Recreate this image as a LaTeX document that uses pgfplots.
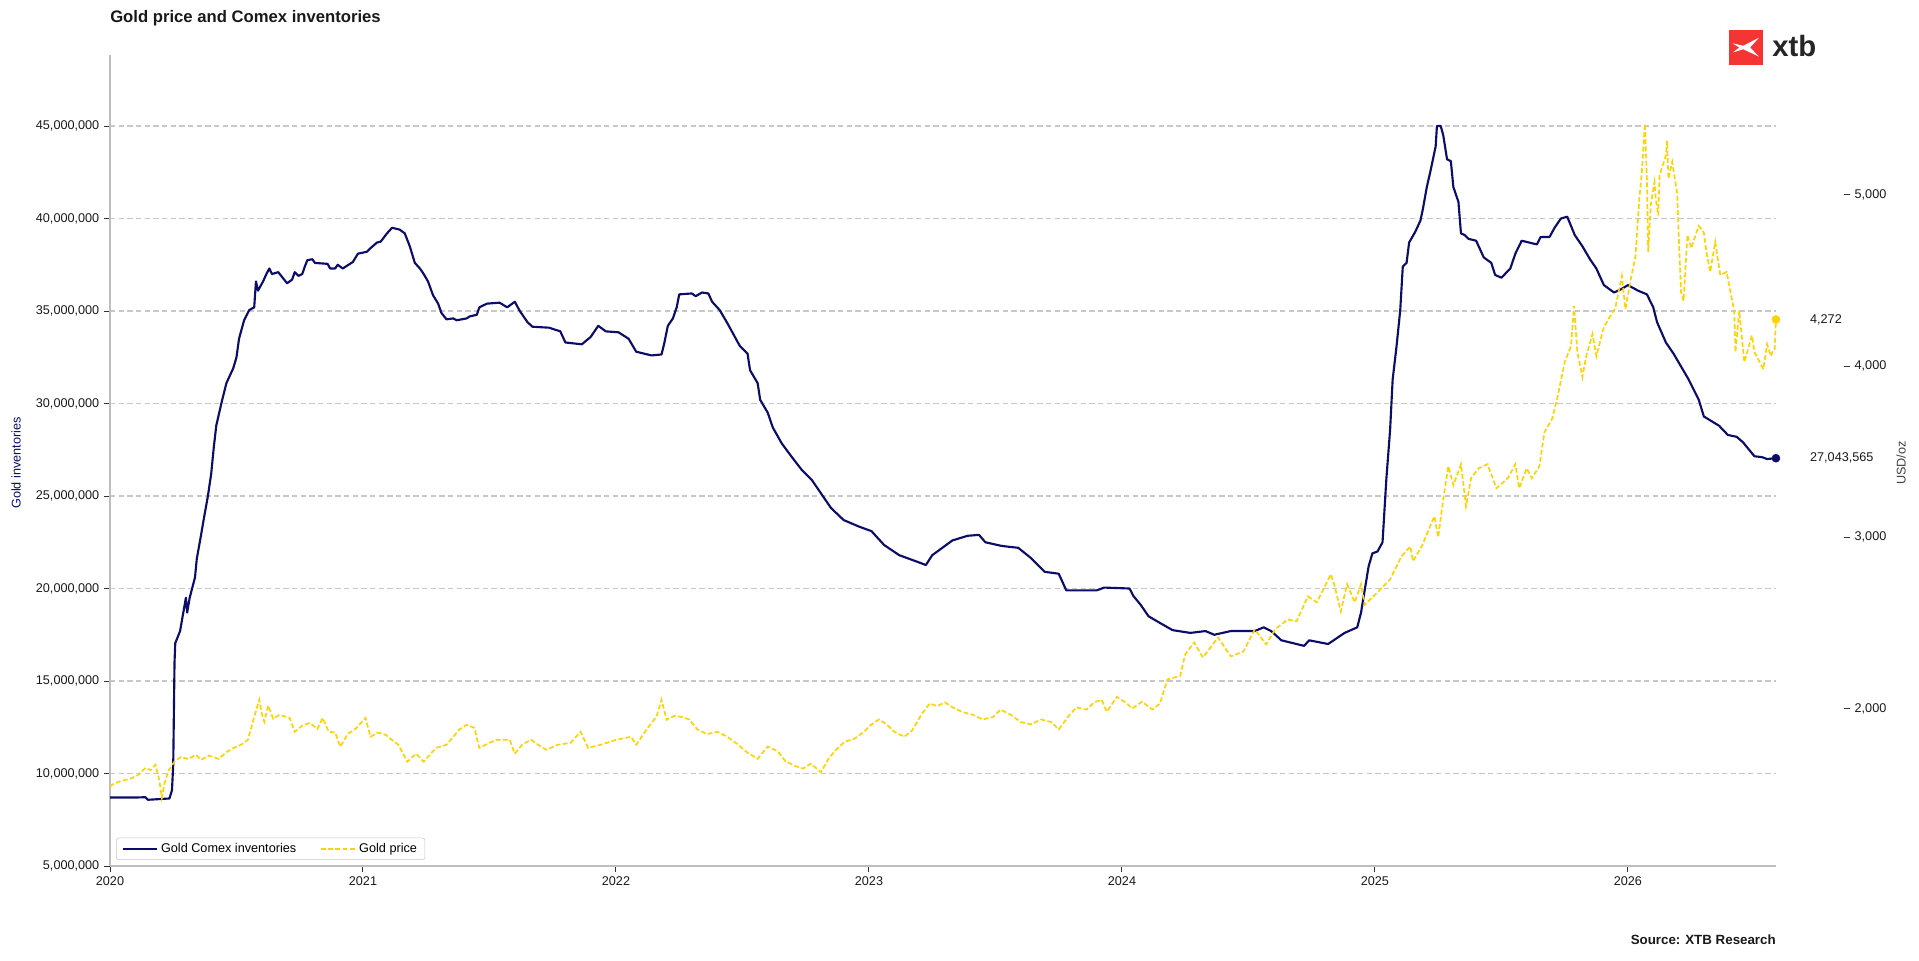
\documentclass[border=0pt]{standalone}
\usepackage{fontspec}
\setmainfont{Liberation Sans}
\usepackage{pgfplots}
\pgfplotsset{compat=1.18}
\definecolor{navy}{RGB}{12,12,105}
\definecolor{goldc}{RGB}{255,210,0}
\definecolor{gridc}{RGB}{200,200,200}
\definecolor{spinec}{RGB}{190,190,190}
\definecolor{xtbred}{RGB}{245,52,52}
\definecolor{txt}{RGB}{25,25,25}
\newcommand{\tfont}{\fontsize{9.5}{11}\selectfont}
\begin{document}
\begin{tikzpicture}
\useasboundingbox (0,0) rectangle (1439.25pt,720pt);
% ---------------- left axis: inventories ----------------
\begin{axis}[
  at={(82.5pt,70.5pt)}, anchor=south west, scale only axis,
  width=1249.5pt, height=608.25pt,
  xmin=2020, xmax=2026.585, ymin=5, ymax=48.84,
  axis x line*=bottom, axis y line*=left,
  axis line style={spinec, line width=1.1pt},
  xtick={2020,2021,2022,2023,2024,2025,2026},
  xticklabels={2020,2021,2022,2023,2024,2025,2026},
  ytick={5,10,15,20,25,30,35,40,45},
  yticklabels={{5,000,000},{10,000,000},{15,000,000},{20,000,000},{25,000,000},{30,000,000},{35,000,000},{40,000,000},{45,000,000}},
  tick align=outside, major tick length=4.5pt,
  tick style={black!80, line width=0.75pt},
  ymajorgrids, grid style={gridc, dash pattern=on 4pt off 2.5pt, line width=0.9pt},
  ticklabel style={font=\tfont, text=txt},
  clip=false,
]
\addplot[navy, line width=1.6pt, mark=none, line join=round] coordinates {
(2020.000,8.70)(2020.100,8.70)(2020.140,8.72)(2020.150,8.58)(2020.200,8.62)(2020.235,8.65)(2020.245,9.10)(2020.250,10.5)(2020.255,16.0)(2020.258,17.05)
(2020.277,17.7)(2020.300,19.5)(2020.305,18.7)(2020.315,19.5)(2020.336,20.6)(2020.343,21.6)(2020.360,22.9)(2020.370,23.7)(2020.387,25.0)(2020.400,26.2)
(2020.410,27.6)(2020.420,28.8)(2020.440,30.0)(2020.460,31.1)(2020.487,31.9)(2020.500,32.5)(2020.510,33.5)(2020.530,34.5)(2020.550,35.05)(2020.570,35.2)
(2020.577,36.6)(2020.585,36.1)(2020.605,36.6)(2020.620,37.05)(2020.630,37.3)(2020.640,37.0)(2020.665,37.1)(2020.700,36.5)(2020.720,36.7)(2020.730,37.1)
(2020.745,36.9)(2020.760,37.0)(2020.770,37.4)(2020.780,37.75)(2020.800,37.8)(2020.810,37.6)(2020.860,37.55)(2020.870,37.3)(2020.890,37.3)(2020.900,37.5)
(2020.920,37.3)(2020.960,37.65)(2020.980,38.1)(2021.015,38.2)(2021.030,38.4)(2021.055,38.7)(2021.070,38.75)(2021.095,39.2)(2021.115,39.5)(2021.145,39.4)
(2021.165,39.2)(2021.185,38.5)(2021.205,37.6)(2021.225,37.3)(2021.240,37.0)(2021.257,36.6)(2021.277,35.85)(2021.297,35.4)(2021.310,34.9)(2021.330,34.55)
(2021.357,34.6)(2021.370,34.5)(2021.410,34.6)(2021.420,34.7)(2021.450,34.8)(2021.460,35.2)(2021.490,35.4)(2021.540,35.45)(2021.570,35.2)(2021.600,35.5)
(2021.620,35.0)(2021.650,34.4)(2021.670,34.15)(2021.735,34.1)(2021.780,33.9)(2021.800,33.3)(2021.865,33.2)(2021.900,33.6)(2021.930,34.2)(2021.960,33.9)
(2022.010,33.85)(2022.050,33.5)(2022.080,32.8)(2022.140,32.6)(2022.180,32.65)(2022.190,33.2)(2022.205,34.2)(2022.225,34.6)(2022.240,35.2)(2022.250,35.9)
(2022.300,35.95)(2022.315,35.8)(2022.340,36.0)(2022.365,35.95)(2022.380,35.5)(2022.410,35.05)(2022.440,34.35)(2022.470,33.6)(2022.490,33.1)(2022.520,32.7)
(2022.530,31.8)(2022.560,31.1)(2022.570,30.2)(2022.600,29.5)(2022.620,28.7)(2022.655,27.85)(2022.690,27.2)(2022.735,26.4)(2022.775,25.85)(2022.815,25.05)
(2022.850,24.35)(2022.900,23.7)(2022.960,23.35)(2023.010,23.1)(2023.060,22.35)(2023.120,21.8)(2023.190,21.45)(2023.225,21.27)(2023.250,21.8)(2023.290,22.2)
(2023.330,22.6)(2023.390,22.85)(2023.435,22.9)(2023.460,22.5)(2023.525,22.3)(2023.590,22.2)(2023.640,21.65)(2023.695,20.9)(2023.750,20.8)(2023.780,19.9)
(2023.900,19.9)(2023.930,20.05)(2024.030,20.0)(2024.045,19.6)(2024.075,19.1)(2024.105,18.5)(2024.155,18.1)(2024.200,17.75)(2024.270,17.6)(2024.330,17.7)
(2024.365,17.5)(2024.430,17.7)(2024.525,17.7)(2024.560,17.9)(2024.590,17.7)(2024.630,17.2)(2024.690,17.0)(2024.720,16.9)(2024.740,17.2)(2024.815,17.0)
(2024.880,17.6)(2024.930,17.9)(2024.945,18.7)(2024.975,21.2)(2024.990,21.9)(2025.010,22.0)(2025.030,22.5)(2025.045,25.9)(2025.060,28.6)(2025.070,31.3)
(2025.085,33.05)(2025.100,35.05)(2025.110,37.4)(2025.125,37.6)(2025.135,38.7)(2025.160,39.3)(2025.180,39.9)(2025.190,40.55)(2025.205,41.7)(2025.220,42.6)
(2025.240,43.9)(2025.245,45.0)(2025.260,45.0)(2025.270,44.5)(2025.285,43.2)(2025.300,43.1)(2025.310,41.7)(2025.330,40.9)(2025.340,39.2)(2025.355,39.1)
(2025.370,38.9)(2025.400,38.8)(2025.430,37.9)(2025.460,37.6)(2025.475,36.95)(2025.500,36.8)(2025.535,37.3)(2025.555,38.1)(2025.580,38.8)(2025.640,38.6)
(2025.655,39.0)(2025.690,39.0)(2025.710,39.5)(2025.735,40.0)(2025.760,40.1)(2025.775,39.6)(2025.790,39.1)(2025.820,38.5)(2025.850,37.8)(2025.875,37.3)
(2025.905,36.4)(2025.945,36.0)(2025.976,36.2)(2026.000,36.4)(2026.040,36.1)(2026.075,35.9)(2026.100,35.2)(2026.115,34.4)(2026.150,33.3)(2026.180,32.7)
(2026.210,32.0)(2026.240,31.3)(2026.280,30.2)(2026.300,29.3)(2026.360,28.8)(2026.395,28.3)(2026.430,28.2)(2026.455,27.9)(2026.470,27.65)(2026.500,27.15)
(2026.530,27.1)(2026.550,27.0)(2026.585,27.043565)
};
\addplot[only marks, mark=*, mark size=3pt, navy] coordinates {(2026.585,27.043565)};
\node[anchor=west, inner sep=0pt, font=\tfont, text=txt] at (axis cs:2026.719,27.043565) {27,043,565};
\end{axis}
% ---------------- right axis: gold price ----------------
\begin{axis}[
  at={(82.5pt,70.5pt)}, anchor=south west, scale only axis,
  width=1300.5pt, height=608.25pt,
  xmin=2020, xmax=2026.8538, ymin=1080, ymax=5817,
  axis x line=none, axis y line*=right,
  y axis line style={draw=none},
  ytick={2000,3000,4000,5000},
  yticklabels={{2,000},{3,000},{4,000},{5,000}},
  tick align=outside, major tick length=4.5pt,
  tick style={black!80, line width=0.75pt},
  ticklabel style={font=\tfont, text=txt},
  clip=false,
  legend columns=2,
  legend style={at={(0.00346,0.0074)}, anchor=south west, draw=gray!45, rounded corners=2pt,
    font=\tfont, inner xsep=4pt, inner ysep=2pt,
    /tikz/every even column/.append style={column sep=16pt}},
  legend cell align=left,
  legend image code/.code={\draw[#1] (0pt,0pt) -- (26pt,0pt);},
]
\addlegendimage{navy, line width=1.6pt}
\addlegendentry{Gold Comex inventories}
\addplot[goldc, line width=1.25pt, mark=none, dash pattern=on 3.6pt off 1.8pt] coordinates {
(2020.000,1544)(2020.010,1556)(2020.040,1575)(2020.080,1590)(2020.110,1610)(2020.140,1653)(2020.160,1640)(2020.180,1671)(2020.195,1580)(2020.205,1478)
(2020.215,1560)(2020.230,1634)(2020.255,1690)(2020.280,1717)(2020.310,1705)(2020.340,1730)(2020.360,1700)(2020.390,1725)(2020.430,1706)(2020.460,1745)
(2020.490,1770)(2020.520,1790)(2020.545,1817)(2020.570,1950)(2020.590,2051)(2020.600,1970)(2020.610,1923)(2020.625,2017)(2020.645,1940)(2020.670,1963)
(2020.710,1945)(2020.730,1864)(2020.760,1900)(2020.790,1916)(2020.820,1880)(2020.840,1945)(2020.865,1864)(2020.890,1860)(2020.910,1776)(2020.940,1852)
(2020.970,1880)(2021.010,1945)(2021.030,1835)(2021.060,1860)(2021.090,1846)(2021.120,1810)(2021.140,1788)(2021.175,1689)(2021.210,1736)(2021.240,1689)
(2021.270,1740)(2021.290,1770)(2021.330,1788)(2021.360,1840)(2021.380,1876)(2021.410,1905)(2021.440,1887)(2021.460,1770)(2021.500,1800)(2021.530,1817)
(2021.580,1817)(2021.600,1736)(2021.630,1790)(2021.665,1817)(2021.700,1780)(2021.725,1759)(2021.770,1788)(2021.820,1799)(2021.860,1864)(2021.890,1770)
(2021.940,1788)(2022.000,1817)(2022.060,1835)(2022.080,1788)(2022.120,1876)(2022.160,1952)(2022.180,2051)(2022.200,1934)(2022.230,1957)(2022.260,1950)
(2022.290,1936)(2022.320,1880)(2022.360,1850)(2022.400,1864)(2022.440,1835)(2022.480,1792)(2022.520,1742)(2022.560,1706)(2022.600,1778)(2022.640,1749)
(2022.670,1692)(2022.710,1663)(2022.740,1649)(2022.770,1678)(2022.810,1628)(2022.840,1706)(2022.870,1760)(2022.905,1807)(2022.940,1821)(2022.980,1864)
(2023.010,1907)(2023.040,1936)(2023.070,1907)(2023.100,1864)(2023.140,1835)(2023.170,1871)(2023.210,1971)(2023.240,2029)(2023.270,2014)(2023.300,2036)
(2023.330,2007)(2023.370,1979)(2023.410,1964)(2023.450,1936)(2023.490,1950)(2023.520,1993)(2023.560,1964)(2023.600,1921)(2023.640,1907)(2023.680,1936)
(2023.720,1921)(2023.750,1878)(2023.790,1957)(2023.820,2007)(2023.860,1993)(2023.890,2036)(2023.920,2051)(2023.940,1981)(2023.980,2068)(2024.020,2029)
(2024.040,2000)(2024.080,2040)(2024.120,1994)(2024.150,2029)(2024.180,2170)(2024.230,2190)(2024.250,2316)(2024.285,2386)(2024.320,2298)(2024.380,2415)
(2024.430,2304)(2024.480,2333)(2024.525,2462)(2024.570,2374)(2024.605,2462)(2024.655,2520)(2024.690,2509)(2024.735,2655)(2024.770,2620)(2024.810,2737)
(2024.825,2784)(2024.840,2720)(2024.865,2567)(2024.890,2726)(2024.920,2620)(2024.945,2726)(2024.960,2606)(2025.010,2679)(2025.060,2754)(2025.105,2889)
(2025.140,2947)(2025.150,2860)(2025.185,2947)(2025.235,3123)(2025.250,3000)(2025.270,3222)(2025.290,3415)(2025.310,3304)(2025.340,3427)(2025.360,3181)
(2025.380,3345)(2025.410,3403)(2025.445,3427)(2025.480,3286)(2025.525,3345)(2025.555,3427)(2025.570,3286)(2025.600,3403)(2025.620,3345)(2025.650,3415)
(2025.670,3614)(2025.700,3690)(2025.720,3807)(2025.750,4023)(2025.775,4117)(2025.787,4351)(2025.800,4082)(2025.820,3936)(2025.835,4058)(2025.860,4187)
(2025.875,4058)(2025.905,4228)(2025.930,4292)(2025.950,4339)(2025.976,4526)(2025.990,4333)(2026.010,4497)(2026.030,4643)(2026.045,4977)(2026.055,5133)
(2026.067,5415)(2026.075,5094)(2026.080,4667)(2026.090,4938)(2026.105,5075)(2026.110,4977)(2026.120,4880)(2026.125,5114)(2026.150,5230)(2026.155,5316)
(2026.160,5094)(2026.175,5192)(2026.195,5006)(2026.200,4785)(2026.210,4433)(2026.220,4380)(2026.235,4766)(2026.250,4688)(2026.280,4819)(2026.300,4780)
(2026.310,4669)(2026.325,4550)(2026.345,4725)(2026.365,4531)(2026.390,4550)(2026.400,4472)(2026.420,4323)(2026.425,4082)(2026.440,4323)(2026.460,4023)
(2026.490,4179)(2026.500,4082)(2026.535,3982)(2026.550,4128)(2026.565,4058)(2026.575,4097)(2026.580,4100)(2026.585,4272)
};
\addlegendentry{Gold price}
\addplot[only marks, mark=*, mark size=3pt, goldc, forget plot] coordinates {(2026.585,4272)};
\node[anchor=west, inner sep=0pt, font=\tfont, text=txt] at (axis cs:2026.719,4272) {4,272};
\end{axis}
% ---------------- texts ----------------
\node[anchor=west, inner sep=0pt, font=\bfseries\fontsize{12.5}{14}\selectfont, text=txt] at (82.5pt,706.5pt) {Gold price and Comex inventories};
\node[anchor=east, inner sep=0pt, font=\bfseries\fontsize{10}{12}\selectfont, text=txt] at (1332pt,15pt) {Source: XTB Research};
\node[rotate=90, inner sep=0pt, font=\tfont, text=navy] at (12pt,372.75pt) {Gold inventories};
\node[rotate=90, inner sep=0pt, font=\tfont, text=black!75] at (1425.75pt,372.75pt) {USD/oz};
% ---------------- logo ----------------
\begin{scope}[shift={(1296.75pt,671.25pt)}, x=25.5pt, y=26.25pt]
  \fill[xtbred] (0,0) rectangle (1,1);
  \fill[white] (0.10,0.62) -- (0.42,0.55) -- (0.88,0.78) -- (0.62,0.50) -- (0.88,0.24) -- (0.42,0.45) -- (0.12,0.36) -- (0.30,0.50) -- cycle;
\end{scope}
\node[anchor=base west, inner sep=0pt, font=\bfseries\fontsize{22}{26}\selectfont, text=black!85] at (1329pt,677.25pt) {xtb};
\end{tikzpicture}
\end{document}
